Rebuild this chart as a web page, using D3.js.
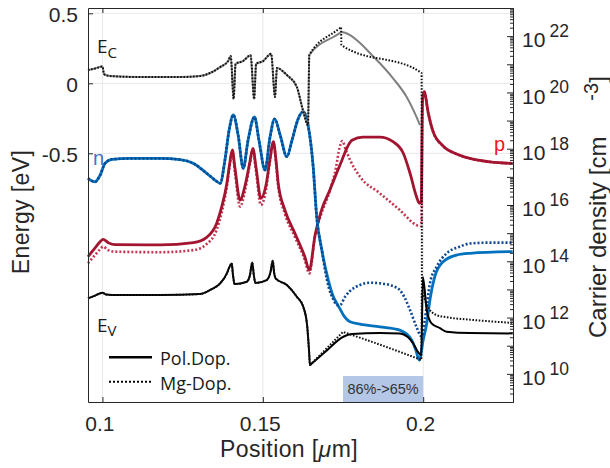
<!DOCTYPE html>
<html>
<head>
<meta charset="utf-8">
<script src="https://d3js.org/d3.v7.min.js"></script>
<style>
  body { margin: 0; background: #fff; }
  svg text { font-family: "Liberation Sans", Arial, sans-serif; fill: #262626; }
  svg text.cal { font-family: "Open Sans", sans-serif; }
</style>
</head>
<body>
<svg width="610" height="468"></svg>
<script>
// band edges, [position um, energy eV]
// conduction band, both dopings are the same until the EBL interface
var ecShared = [[0.0955,0.095],[0.0977,0.106],[0.1000,0.120],[0.1005,0.066],[0.1024,0.052],[0.1117,0.045],[0.1242,0.045],[0.1304,0.052],[0.1336,0.074],[0.1367,0.116],[0.1392,0.159],[0.1400,0.195],[0.1409,-0.112],[0.1415,0.138],[0.1438,0.159],[0.1462,0.200],[0.1473,-0.112],[0.1479,0.138],[0.1501,0.159],[0.1526,0.211],[0.1538,-0.098],[0.1544,0.109],[0.1575,0.059],[0.1606,-0.026],[0.1625,-0.191],[0.1641,-0.298],[0.1645,0.202]];
var ecPolTail = [[0.1740,0.359],[0.1744,0.366],[0.1772,0.345],[0.1803,0.288],[0.1843,0.195],[0.1865,0.143],[0.1906,0.036],[0.1948,-0.096],[0.1979,-0.239],[0.1990,-0.298]];
var ecMgTail = [[0.1740,0.394],[0.1744,0.402],[0.1745,0.274],[0.1995,0.074],[0.1996,-1.546]];

// valence band
var evShared = [[0.0955,-1.536],[0.0977,-1.516],[0.1000,-1.496],[0.1012,-1.509],[0.1030,-1.512],[0.1180,-1.512],[0.1304,-1.505],[0.1336,-1.476],[0.1367,-1.429],[0.1388,-1.357],[0.1396,-1.312],[0.1403,-1.286],[0.1407,-1.369],[0.1412,-1.434],[0.1450,-1.417],[0.1460,-1.369],[0.1467,-1.279],[0.1472,-1.370],[0.1477,-1.426],[0.1512,-1.405],[0.1524,-1.348],[0.1531,-1.267],[0.1535,-1.348],[0.1540,-1.393],[0.1575,-1.441],[0.1606,-1.524],[0.1626,-1.596],[0.1638,-1.726],[0.1644,-1.905],[0.1647,-2.012]];
var evPolTail = [[0.1650,-2.006],[0.1694,-1.919],[0.1751,-1.810],[0.1778,-1.791],[0.1865,-1.784],[0.1927,-1.786],[0.1952,-1.812],[0.1968,-1.855],[0.1984,-1.919],[0.1994,-1.941],[0.1999,-1.384],[0.2011,-1.619],[0.2026,-1.714],[0.2052,-1.748],[0.2073,-1.774],[0.2146,-1.784],[0.2279,-1.786]];
var evMgTail = [[0.1651,-2.003],[0.1746,-1.785],[0.1750,-1.776],[0.1754,-1.779],[0.1987,-1.969],[0.1994,-1.975],[0.1996,-1.491],[0.2010,-1.577],[0.2041,-1.655],[0.2074,-1.671],[0.2146,-1.688],[0.2279,-1.711]];

// electrons, [position um, cm^-3]
var nShared = [[0.0955,8.9e16],[0.0977,6.7e16],[0.0993,1.16e17],[0.1008,3.0e17],[0.1030,4.2e17],[0.1086,4.5e17],[0.1180,4.5e17],[0.1242,4.1e17],[0.1284,3.0e17],[0.1325,1.34e17],[0.1351,7.7e16],[0.1367,5.9e16],[0.1382,4.0e17],[0.1395,4.6e18],[0.1408,1.58e19],[0.1423,3.1e18],[0.1439,2.0e17],[0.1454,2.0e18],[0.1474,1.34e19],[0.1488,2.0e18],[0.1507,1.75e17],[0.1522,2.4e18],[0.1537,1.14e19],[0.1554,3.1e18],[0.1575,5.2e17],[0.1591,2.0e18],[0.1610,1.14e19],[0.1626,2.07e19],[0.1642,6.0e18],[0.1657,2.3e17],[0.1668,3.8e15],[0.1684,2.5e14]];
var nPolTail = [[0.1704,2.2e13],[0.1720,5.5e12],[0.1730,3.3e12],[0.1741,2.0e12],[0.1751,1.23e12],[0.1772,7.1e11],[0.1803,5.9e11],[0.1865,4.7e11],[0.1927,3.6e11],[0.1964,1.6e11],[0.1977,7.0e10],[0.1988,3.1e10],[0.2000,1.6e11],[0.2011,6.2e11],[0.2021,4.2e12],[0.2036,2.8e13],[0.2062,9.6e13],[0.2104,1.67e14],[0.2146,1.92e14],[0.2279,2.2e14]];
var nMgTail = [[0.1694,4.9e13],[0.1706,1.12e13],[0.1719,4.6e12],[0.1731,2.8e12],[0.1741,2.8e12],[0.1756,5.4e12],[0.1772,8.8e12],[0.1803,1.43e13],[0.1834,1.73e13],[0.1865,1.65e13],[0.1896,1.43e13],[0.1927,9.5e12],[0.1943,4.9e12],[0.1959,1.85e12],[0.1979,4.7e11],[0.1995,2.1e11],[0.2005,8.2e11],[0.2021,1.65e13],[0.2042,6.4e13],[0.2073,1.92e14],[0.2114,3.3e14],[0.2146,4.3e14],[0.2208,4.6e14],[0.2279,4.6e14]];

// holes
var pPol = [[0.0955,1.45e14],[0.0977,3.0e14],[0.0993,5.0e14],[0.1002,6.0e14],[0.1018,4.6e14],[0.1040,3.9e14],[0.1180,3.8e14],[0.1284,4.6e14],[0.1325,7.1e14],[0.1356,2.2e15],[0.1372,8.7e15],[0.1388,5.9e16],[0.1396,2.6e17],[0.1405,9.0e17],[0.1413,2.1e17],[0.1429,1.5e16],[0.1445,5.1e16],[0.1459,3.1e17],[0.1469,1.03e18],[0.1479,2.1e17],[0.1494,1.73e16],[0.1510,5.1e16],[0.1522,4.0e17],[0.1533,1.77e18],[0.1541,4.0e17],[0.1548,5.9e16],[0.1569,6.6e15],[0.1600,9.9e14],[0.1631,1.45e14],[0.1645,4.9e13],[0.1663,8.6e14],[0.1681,5.6e15],[0.1709,3.4e16],[0.1734,1.75e17],[0.1747,4.0e17],[0.1762,1.06e18],[0.1778,2.0e18],[0.1812,2.6e18],[0.1865,2.6e18],[0.1906,1.77e18],[0.1938,6.9e17],[0.1959,1.34e17],[0.1979,2.0e16],[0.1988,1.15e16],[0.1994,1.4e16],[0.1998,5.4e19],[0.2003,1.06e20],[0.2016,1.8e19],[0.2031,4.0e18],[0.2062,1.25e18],[0.2104,6.5e17],[0.2146,4.5e17],[0.2208,3.4e17],[0.2279,3.0e17]];
var pMg = [[0.0955,8.5e13],[0.0977,1.67e14],[0.0993,2.7e14],[0.1002,3.3e14],[0.1018,2.5e14],[0.1040,2.2e14],[0.1180,2.1e14],[0.1284,2.5e14],[0.1325,4.1e14],[0.1356,1.29e15],[0.1372,5.6e15],[0.1388,4.7e16],[0.1396,2.2e17],[0.1405,7.6e17],[0.1413,1.49e17],[0.1429,8.7e15],[0.1445,3.4e16],[0.1459,2.6e17],[0.1469,9.0e17],[0.1479,1.49e17],[0.1494,1.0e16],[0.1510,3.4e16],[0.1522,3.4e17],[0.1533,1.6e18],[0.1541,3.4e17],[0.1548,4.7e16],[0.1569,4.8e15],[0.1600,7.3e14],[0.1631,1.11e14],[0.1645,3.7e13],[0.1663,7.9e14],[0.1681,4.4e15],[0.1709,3.2e16],[0.1728,2.1e17],[0.1739,1.06e18],[0.1748,1.88e18],[0.1759,9.0e17],[0.1772,4.0e17],[0.1803,1.01e17],[0.1865,2.6e16],[0.1927,6.6e15],[0.1979,1.94e15],[0.1988,1.79e15],[0.1994,1.8e15],[0.1998,5.4e19],[0.2003,1.06e20],[0.2016,1.8e19],[0.2031,4.0e18],[0.2062,1.25e18],[0.2104,6.5e17],[0.2146,4.5e17],[0.2208,3.4e17],[0.2279,3.0e17]];

var xTicks = [0.1, 0.15, 0.2];
var energyTicks = [-0.5, 0, 0.5];
var densityExps = [10, 12, 14, 16, 18, 20, 22];
var legendLabels = ["Pol.Dop.", "Mg-Dop."];
var gradeLabel = "86%->65%";
var gradeRange = [0.175, 0.2];

var svg = d3.select("svg"),
    margin = {top: 8, right: 97, bottom: 66, left: 88},
    width = 610 - margin.left - margin.right,
    height = 468 - margin.top - margin.bottom;

var x = d3.scaleLinear().domain([0.0955, 0.228]).range([0, width]),
    yE = d3.scaleLinear().domain([-2.276, 0.538]).range([height, 0]),
    yN = d3.scaleLog().domain([1e9, 1e23]).range([height, 0]);

var g = svg.append("g")
    .attr("transform", "translate(" + margin.left + "," + margin.top + ")");

// grid follows the energy axis
g.selectAll(".vgrid").data(xTicks).enter().append("line")
    .attr("x1", d => x(d)).attr("x2", d => x(d))
    .attr("y1", 0).attr("y2", height)
    .attr("stroke", "#e8e8e8");
g.selectAll(".hgrid").data(energyTicks).enter().append("line")
    .attr("x1", 0).attr("x2", width)
    .attr("y1", d => yE(d)).attr("y2", d => yE(d))
    .attr("stroke", "#e8e8e8");

var lineE = d3.line().x(d => x(d[0])).y(d => yE(d[1])).curve(d3.curveMonotoneX);
var lineN = d3.line().x(d => x(d[0])).y(d => yN(d[1])).curve(d3.curveMonotoneX);

function draw(path, data, color, w, dash) {
  g.append("path")
    .attr("d", path(data))
    .attr("fill", "none")
    .attr("stroke", color)
    .attr("stroke-width", w)
    .attr("stroke-dasharray", dash || null)
    .attr("stroke-linejoin", "round");
}

// carrier densities
draw(lineN, pMg, "#c23651", 2.6, "2,2");
draw(lineN, pPol, "#a2142f", 2.8);
draw(lineN, nShared.concat(nPolTail), "#0072bd", 2.8);
draw(lineN, nShared.concat(nMgTail), "#0d468f", 2.6, "2,2");

// band edges
draw(lineE, ecShared.concat(ecPolTail), "#808080", 2);
draw(lineE, ecShared.concat(ecMgTail), "#111", 2, "1.6,1.6");
draw(lineE, evShared.concat(evPolTail), "#000", 2);
draw(lineE, evShared.concat(evMgTail), "#111", 2, "1.6,1.6");

// graded EBL marker
g.append("rect")
    .attr("x", x(gradeRange[0])).attr("width", x(gradeRange[1]) - x(gradeRange[0]))
    .attr("y", height - 26).attr("height", 26)
    .attr("fill", "#b4c7e7");
g.append("text")
    .attr("x", (x(gradeRange[0]) + x(gradeRange[1])) / 2).attr("y", height - 8)
    .attr("text-anchor", "middle")
    .style("font-size", "14.5px").style("fill", "#333")
    .text(gradeLabel);

// axes, ticks pointing inside
function styleAxis(sel) {
  sel.attr("font-family", null).attr("font-size", null);
  sel.selectAll(".domain").attr("stroke", "#262626");
  sel.selectAll(".tick line").attr("stroke", "#262626");
  sel.selectAll("text").style("font-size", "21px").attr("fill", "#262626");
}

g.append("g")
    .attr("transform", "translate(0," + height + ")")
    .call(d3.axisBottom(x).tickValues(xTicks).tickSize(-5).tickSizeOuter(0).tickPadding(14).tickFormat(d => String(d)))
    .call(styleAxis)
    .selectAll("text").attr("dx", -3);

g.append("g")
    .call(d3.axisTop(x).tickValues(xTicks).tickSize(-5).tickSizeOuter(0).tickFormat(""))
    .call(styleAxis);

g.append("g")
    .call(d3.axisLeft(yE).tickValues(energyTicks).tickSize(-5).tickSizeOuter(0).tickPadding(10).tickFormat(d => String(d)))
    .call(styleAxis)
    .selectAll("text").attr("dy", "0.4em");

var decades = d3.range(9, 24).map(e => Math.pow(10, e));
var minors = [];
d3.range(9, 23).forEach(function(e) {
  d3.range(2, 10).forEach(function(k) { minors.push(k * Math.pow(10, e)); });
});
g.append("g")
    .attr("transform", "translate(" + width + ",0)")
    .call(d3.axisRight(yN).tickValues(minors).tickSize(-3).tickSizeOuter(0).tickFormat(""))
    .call(styleAxis);
g.append("g")
    .attr("transform", "translate(" + width + ",0)")
    .call(d3.axisRight(yN).tickValues(decades).tickSize(-6).tickSizeOuter(0).tickFormat(""))
    .call(styleAxis);

var rLab = g.selectAll(".rlab").data(densityExps).enter().append("g")
    .attr("transform", d => "translate(" + (width + 9) + "," + yN(Math.pow(10, d)) + ")");
rLab.append("text").attr("y", 11.3).style("font-size", "21px").text("10");
rLab.append("text").attr("x", 27.5).attr("y", 1).style("font-size", "17.5px").text(d => d);

// axis titles
svg.append("text")
    .attr("x", 289).attr("y", 456.7)
    .attr("text-anchor", "middle")
    .style("font-size", "23px").style("letter-spacing", "0.4px")
    .html('Position [<tspan font-style="italic">μ</tspan>m]');

svg.append("text")
    .attr("transform", "translate(29,212) rotate(-90)")
    .attr("text-anchor", "middle")
    .style("font-size", "23px").style("letter-spacing", "0.4px")
    .text("Energy [eV]");

svg.append("text")
    .attr("transform", "translate(606,338) rotate(-90)")
    .style("font-size", "24px")
    .html('Carrier density [cm<tspan dx="36" dy="-8" font-size="20px">-3</tspan><tspan dy="8">]</tspan>');

// curve labels
var ecLab = svg.append("text").attr("class", "cal").attr("x", 97).attr("y", 53.3).style("font-size", "19px").style("fill", "#1a1a1a");
ecLab.append("tspan").text("E");
ecLab.append("tspan").attr("dy", 5).style("font-size", "15px").text("C");
var evLab = svg.append("text").attr("class", "cal").attr("x", 97).attr("y", 331.5).style("font-size", "19px").style("fill", "#1a1a1a");
evLab.append("tspan").text("E");
evLab.append("tspan").attr("dy", 4).style("font-size", "15px").text("V");

svg.append("text").attr("x", 93).attr("y", 165).style("font-size", "20px").style("fill", "#4472c4").text("n");
svg.append("text").attr("x", 494).attr("y", 151).style("font-size", "20px").style("fill", "#f01818").text("p");

// legend
var leg = svg.selectAll(".leg").data(legendLabels).enter().append("g")
    .attr("transform", (d, i) => "translate(109," + (357.3 + i * 24.4) + ")");
leg.append("line")
    .attr("x1", 0).attr("x2", 43)
    .attr("stroke", "#000")
    .attr("stroke-width", (d, i) => i ? 2 : 2.5)
    .attr("stroke-dasharray", (d, i) => i ? "2,2" : null);
leg.append("text").attr("class", "cal")
    .attr("x", 51).attr("y", 8)
    .style("font-size", "18px").style("fill", "#1a1a1a")
    .text(d => d);
</script>
</body>
</html>
